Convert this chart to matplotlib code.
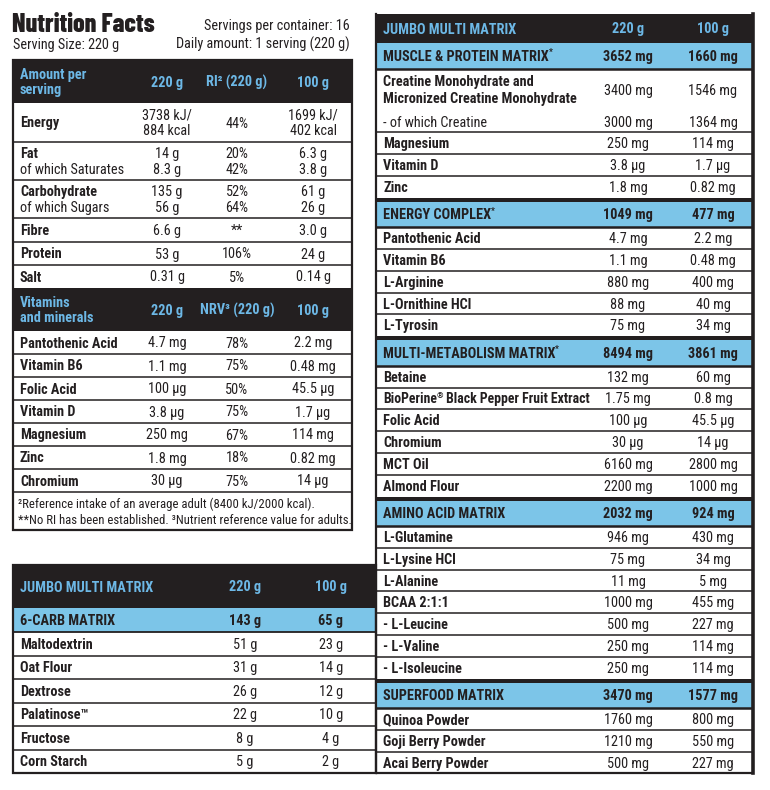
import matplotlib
matplotlib.use("Agg")
import matplotlib.pyplot as plt
from matplotlib.patches import Rectangle

DARK = "#231f20"
BLUE_FILL = "#7cc5e8"
BLUE_TEXT = "#6db8e6"
plt.rcParams['font.family'] = ['Roboto Condensed', 'DejaVu Sans']

# ---- data: nutrition facts ----
title = "Nutrition Facts"
servings_text = "Servings per container: 16"
serving_size_text = "Serving Size: 220 g"
daily_amount_text = "Daily amount: 1 serving (220 g)"

facts_header = ["Amount per\nserving", "220 g", "RI² (220 g)", "100 g"]
facts_labels = ["Energy", "Fat", "Carbohydrate", "Fibre", "Protein", "Salt"]
facts_sublabels = ["", "of which Saturates", "of which Sugars", "", "", ""]
facts_220 = ["3738 kJ/\n884 kcal", "14 g\n8.3 g", "135 g\n56 g", "6.6 g", "53 g", "0.31 g"]
facts_ri = ["44%", "20%\n42%", "52%\n64%", "**", "106%", "5%"]
facts_100 = ["1699 kJ/\n402 kcal", "6.3 g\n3.8 g", "61 g\n26 g", "3.0 g", "24 g", "0.14 g"]

vitamin_header = ["Vitamins\nand minerals", "220 g", "NRV³ (220 g)", "100 g"]
vitamin_labels = ["Pantothenic Acid", "Vitamin B6", "Folic Acid", "Vitamin D",
                  "Magnesium", "Zinc", "Chromium"]
vitamin_220 = ["4.7 mg", "1.1 mg", "100 µg", "3.8 µg", "250 mg", "1.8 mg", "30 µg"]
vitamin_nrv = ["78%", "75%", "50%", "75%", "67%", "18%", "75%"]
vitamin_100 = ["2.2 mg", "0.48 mg", "45.5 µg", "1.7 µg", "114 mg", "0.82 mg", "14 µg"]

footnotes = ["²Reference intake of an average adult (8400 kJ/2000 kcal).",
             "**No RI has been established. ³Nutrient reference value for adults."]

# ---- data: matrices ----
matrix_header = ["JUMBO MULTI MATRIX", "220 g", "100 g"]

carb_total = ["6-CARB MATRIX", "143 g", "65 g"]
carb_items = ["Maltodextrin", "Oat Flour", "Dextrose", "Palatinose™", "Fructose", "Corn Starch"]
carb_220 = ["51 g", "31 g", "26 g", "22 g", "8 g", "5 g"]
carb_100 = ["23 g", "14 g", "12 g", "10 g", "4 g", "2 g"]

muscle_total = ["MUSCLE & PROTEIN MATRIX*", "3652 mg", "1660 mg"]
muscle_items = ["Creatine Monohydrate and\nMicronized Creatine Monohydrate",
                "- of which Creatine", "Magnesium", "Vitamin D", "Zinc"]
muscle_220 = ["3400 mg", "3000 mg", "250 mg", "3.8 µg", "1.8 mg"]
muscle_100 = ["1546 mg", "1364 mg", "114 mg", "1.7 µg", "0.82 mg"]

energy_total = ["ENERGY COMPLEX*", "1049 mg", "477 mg"]
energy_items = ["Pantothenic Acid", "Vitamin B6", "L-Arginine", "L-Ornithine HCl", "L-Tyrosin"]
energy_220 = ["4.7 mg", "1.1 mg", "880 mg", "88 mg", "75 mg"]
energy_100 = ["2.2 mg", "0.48 mg", "400 mg", "40 mg", "34 mg"]

metab_total = ["MULTI-METABOLISM MATRIX*", "8494 mg", "3861 mg"]
metab_items = ["Betaine", "BioPerine® Black Pepper Fruit Extract", "Folic Acid",
               "Chromium", "MCT Oil", "Almond Flour"]
metab_220 = ["132 mg", "1.75 mg", "100 µg", "30 µg", "6160 mg", "2200 mg"]
metab_100 = ["60 mg", "0.8 mg", "45.5 µg", "14 µg", "2800 mg", "1000 mg"]

amino_total = ["AMINO ACID MATRIX", "2032 mg", "924 mg"]
amino_items = ["L-Glutamine", "L-Lysine HCl", "L-Alanine", "BCAA 2:1:1",
               "- L-Leucine", "- L-Valine", "- L-Isoleucine"]
amino_220 = ["946 mg", "75 mg", "11 mg", "1000 mg", "500 mg", "250 mg", "250 mg"]
amino_100 = ["430 mg", "34 mg", "5 mg", "455 mg", "227 mg", "114 mg", "114 mg"]

superfood_total = ["SUPERFOOD MATRIX", "3470 mg", "1577 mg"]
superfood_items = ["Quinoa Powder", "Goji Berry Powder", "Acai Berry Powder"]
superfood_220 = ["1760 mg", "1210 mg", "500 mg"]
superfood_100 = ["800 mg", "550 mg", "227 mg"]

FS = 10.3
RENDERER = None


def text_width(ax, t):
    bb = t.get_window_extent(RENDERER)
    inv = ax.transData.inverted()
    (xa, _), (xb, _) = inv.transform([[bb.x0, bb.y0], [bb.x1, bb.y1]])
    return xb - xa


def label(ax, x, y, s, weight='bold', color=DARK, fs=FS, **kw):
    """Draw a label; '*' at the end and '®' are drawn small and raised."""
    for mark in ("®", "*"):
        if mark in s:
            head, tail = s.split(mark, 1)
            t = ax.text(x, y, head, fontsize=fs, fontweight=weight, color=color, va='center', **kw)
            x2 = x + text_width(ax, t) - 0.3
            t2 = ax.text(x2, y - 4, mark, fontsize=fs * 0.6, fontweight=weight, color=color,
                         va='center')
            if tail:
                label(ax, x2 + text_width(ax, t2) - 0.5, y, tail, weight, color, fs, **kw)
            return
    ax.text(x, y, s, fontsize=fs, fontweight=weight, color=color, va='center', **kw)


def hline(ax, x0, x1, y, lw=1.0, color=DARK):
    ax.plot([x0, x1], [y, y], color=color, lw=lw, solid_capstyle='butt')


def dark_header(ax, x0, x1, y0, h, texts, xs):
    ax.add_patch(Rectangle((x0, y0), x1 - x0, h, color=DARK, lw=0))
    for i, (t, x) in enumerate(zip(texts, xs)):
        ax.text(x, y0 + h / 2 + 1, t, color=BLUE_TEXT, fontsize=FS, fontweight='bold',
                ha='left' if i == 0 else 'center', va='center', linespacing=1.1)


def blue_row(ax, x0, x1, y0, h, texts, xs):
    ax.add_patch(Rectangle((x0, y0), x1 - x0, h, color=BLUE_FILL, lw=0))
    label(ax, xs[0], y0 + h / 2 + 1, texts[0])
    for t, x in zip(texts[1:], xs[1:]):
        ax.text(x, y0 + h / 2 + 1, t, color=DARK, fontsize=FS, fontweight='bold',
                ha='center', va='center')


def value(ax, x, y, s):
    ax.text(x, y, s, fontsize=FS, color=DARK, ha='center', va='center', linespacing=1.1)


def draw_facts(ax):
    x0, x1 = 13, 352
    xs = [20, 167, 237, 313]
    t = ax.text(12, 32, title, fontsize=23, fontweight=800, color=DARK, va='baseline',
                family=['Barlow Condensed', 'Roboto Condensed'])
    t.set_fontsize(23 * 143 / text_width(ax, t))
    ax.text(350, 30, servings_text, fontsize=FS, color=DARK, ha='right', va='baseline')
    ax.text(13, 49, serving_size_text, fontsize=FS, color=DARK, va='baseline')
    ax.text(350, 49, daily_amount_text, fontsize=FS, color=DARK, ha='right', va='baseline')

    y = 60
    dark_header(ax, x0, x1, y, 43, facts_header, xs)
    y += 43
    heights = [39, 38, 38, 24, 23, 23]
    for i, h in enumerate(heights):
        if facts_sublabels[i]:
            label(ax, xs[0], y + h / 2 - 7, facts_labels[i])
            label(ax, xs[0], y + h / 2 + 9, facts_sublabels[i], weight='normal')
        else:
            label(ax, xs[0], y + h / 2 + 1, facts_labels[i])
        for x, v in zip(xs[1:], [facts_220[i], facts_ri[i], facts_100[i]]):
            value(ax, x, y + h / 2 + 1, v)
        y += h
        if i < len(heights) - 1:
            hline(ax, x0, x1, y, 1.1)
    dark_header(ax, x0, x1, y, 43, vitamin_header, xs)
    y += 43
    for i, lab in enumerate(vitamin_labels):
        h = 23
        label(ax, xs[0], y + h / 2 + 1, lab)
        for x, v in zip(xs[1:], [vitamin_220[i], vitamin_nrv[i], vitamin_100[i]]):
            value(ax, x, y + h / 2 + 1, v)
        y += h
        hline(ax, x0, x1, y, 1.1)
    ax.text(18, y + 12, footnotes[0], fontsize=9.2, color=DARK, va='center')
    ax.text(18, y + 28, footnotes[1], fontsize=9.2, color=DARK, va='center')
    ax.add_patch(Rectangle((x0, 60), x1 - x0, 530 - 60, fill=False, ec=DARK, lw=1.6))


def draw_carb(ax):
    x0, x1 = 13, 376
    xs = [20, 245, 331]
    y = 565
    dark_header(ax, x0, x1, y, 43, matrix_header, xs)
    y += 43
    blue_row(ax, x0, x1, y, 24, carb_total, xs)
    y += 24
    hline(ax, x0, x1, y, 1.3)
    for i, lab in enumerate(carb_items):
        h = 23.5
        label(ax, xs[0], y + h / 2 + 1, lab)
        value(ax, xs[1], y + h / 2 + 1, carb_220[i])
        value(ax, xs[2], y + h / 2 + 1, carb_100[i])
        y += h
        hline(ax, x0, x1, y, 1.1)
    ax.add_patch(Rectangle((x0, 565), x1 - x0, y - 565, fill=False, ec=DARK, lw=1.6))


def draw_matrices(ax):
    x0, x1 = 376, 753
    xs = [383, 628, 713]
    row_h = 21.8
    y = 14
    dark_header(ax, x0, x1, y, 29, matrix_header, xs)
    y += 29
    sections = [
        (muscle_total, muscle_items, muscle_220, muscle_100),
        (energy_total, energy_items, energy_220, energy_100),
        (metab_total, metab_items, metab_220, metab_100),
        (amino_total, amino_items, amino_220, amino_100),
        (superfood_total, superfood_items, superfood_220, superfood_100),
    ]
    for s, (total, items, v220, v100) in enumerate(sections):
        if s > 0:
            ax.add_patch(Rectangle((x0, y), x1 - x0, 4, color=DARK, lw=0))
            y += 4
        blue_row(ax, x0, x1, y, 25.5, total, xs)
        y += 25.5
        hline(ax, x0, x1, y, 1.8)
        for i, lab in enumerate(items):
            two_lines = "\n" in lab
            h = 42 if two_lines else row_h
            sub = lab.startswith("- of which")
            dy = 2 if sub else 1
            if sub:
                label(ax, xs[0], y + h / 2 + dy, lab, weight='normal')
            elif two_lines:
                ax.text(xs[0], y + h / 2 + 1, lab, fontsize=FS, fontweight='bold', color=DARK,
                        va='center', linespacing=1.35)
            else:
                fs = FS * 0.96 if len(lab) > 30 else FS
                label(ax, xs[0], y + h / 2 + 1, lab, fs=fs)
            value(ax, xs[1], y + h / 2 + dy, v220[i])
            value(ax, xs[2], y + h / 2 + dy, v100[i])
            y += h
            last = i == len(items) - 1
            nxt_sub = (not last) and items[i + 1].startswith("- of which")
            if not last and not nxt_sub:
                hline(ax, x0, x1, y, 1.1)
    ax.plot([x0, x0], [14, y], color=DARK, lw=1.6)
    ax.plot([x1, x1], [14, y], color=DARK, lw=2.6)
    hline(ax, x0, x1, y, 1.6)


def main():
    global RENDERER
    fig = plt.figure(figsize=(7.7, 7.9), dpi=100)
    ax = fig.add_axes([0, 0, 1, 1])
    ax.set_xlim(0, 770)
    ax.set_ylim(790, 0)
    ax.axis('off')
    RENDERER = fig.canvas.get_renderer()
    draw_facts(ax)
    draw_carb(ax)
    draw_matrices(ax)
    fig.savefig("out.png", dpi=100, facecolor="white")


if __name__ == "__main__":
    main()
